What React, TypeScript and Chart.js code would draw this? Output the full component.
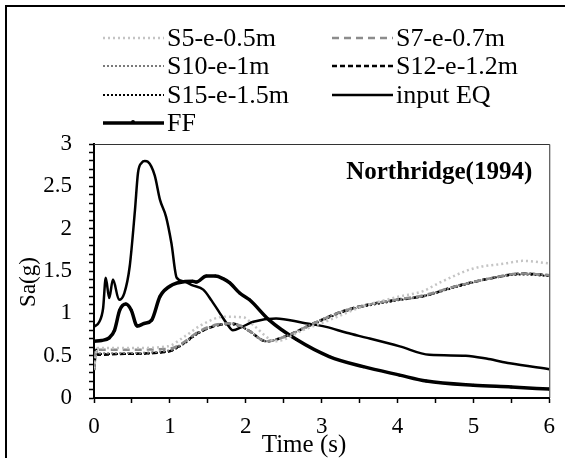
import React, { useEffect, useRef } from "react";
import { Chart, registerables } from "chart.js";

Chart.register(...registerables);

// ---- data ----
const inputT = [0, 0.07, 0.12, 0.155, 0.2, 0.25, 0.33, 0.4, 0.47, 0.54, 0.58, 0.63, 0.67, 0.71, 0.8, 0.87, 0.95, 1.02, 1.09, 1.19, 1.3, 1.44, 1.55, 1.66, 1.75, 1.83, 1.95, 2.1, 2.4, 2.75, 3.06, 3.33, 3.6, 4.03, 4.42, 4.9, 5.2, 5.48, 6.0];
const inputV = [0.84, 0.9, 1.06, 1.42, 1.18, 1.4, 1.16, 1.24, 1.55, 2.22, 2.66, 2.78, 2.8, 2.79, 2.63, 2.34, 2.14, 1.83, 1.42, 1.375, 1.33, 1.28, 1.15, 1.0, 0.88, 0.8, 0.84, 0.9, 0.94, 0.89, 0.84, 0.77, 0.71, 0.61, 0.51, 0.5, 0.46, 0.41, 0.34];

const ffT = [0, 0.1, 0.2, 0.27, 0.34, 0.42, 0.49, 0.57, 0.66, 0.76, 0.87, 1.04, 1.2, 1.3, 1.35, 1.48, 1.6, 1.7, 1.79, 1.92, 2.05, 2.31, 2.67, 3.1, 3.55, 4.03, 4.38, 5.0, 5.5, 6.0];
const ffV = [0.67, 0.68, 0.71, 0.8, 1.04, 1.11, 1.04, 0.85, 0.88, 0.92, 1.2, 1.34, 1.375, 1.38, 1.37, 1.44, 1.44, 1.41, 1.36, 1.24, 1.16, 0.92, 0.69, 0.49, 0.37, 0.27, 0.2, 0.15, 0.13, 0.105];

const sT = [0, 0.03, 0.05, 0.32, 0.98, 1.15, 1.37, 1.63, 1.81, 1.94, 2.05, 2.27, 2.53, 2.89, 3.33, 3.98, 4.33, 4.77, 5.21, 5.65, 6.0];
const s7V = [0.33, 0.58, 0.57, 0.57, 0.58, 0.64, 0.78, 0.87, 0.88, 0.85, 0.79, 0.67, 0.73, 0.88, 1.04, 1.16, 1.21, 1.32, 1.41, 1.47, 1.45];
const s10V = [0.33, 0.56, 0.53, 0.53, 0.56, 0.63, 0.77, 0.86, 0.88, 0.85, 0.79, 0.67, 0.73, 0.88, 1.04, 1.16, 1.2, 1.32, 1.41, 1.47, 1.45];
const s12V = [0.33, 0.57, 0.51, 0.52, 0.55, 0.63, 0.77, 0.86, 0.88, 0.85, 0.79, 0.67, 0.73, 0.88, 1.04, 1.16, 1.2, 1.32, 1.41, 1.47, 1.45];
const s15V = [0.33, 0.55, 0.52, 0.52, 0.55, 0.62, 0.76, 0.86, 0.87, 0.84, 0.79, 0.67, 0.73, 0.87, 1.03, 1.15, 1.2, 1.31, 1.41, 1.46, 1.44];

const s5T = [0, 0.05, 0.5, 0.97, 1.2, 1.41, 1.72, 1.98, 2.1, 2.4, 2.75, 3.1, 3.54, 4.03, 4.33, 4.55, 5.0, 5.43, 5.65, 6.0];
const s5V = [0.35, 0.59, 0.59, 0.61, 0.73, 0.86, 0.96, 0.95, 0.86, 0.67, 0.8, 0.92, 1.08, 1.2, 1.26, 1.36, 1.53, 1.59, 1.62, 1.59];

const seriesNames = ["S5-e-0.5m", "S7-e-0.7m", "S10-e-1m", "S12-e-1.2m", "S15-e-1.5m", "input EQ", "FF"];
const chartTitle = "Northridge(1994)";
const xTitle = "Time (s)";
const yTitle = "Sa(g)";
const xMin = 0, xMax = 6, xStep = 0.5;
const yMin = 0, yMax = 3, yStep = 0.1;

const zip = (t: number[], v: number[]) => t.map((x, i) => ({ x, y: v[i] }));

const FONT = "'Liberation Serif', 'Times New Roman', serif";

const decorPlugin = {
  id: "decor",
  beforeDraw(chart: any) {
    const ctx = chart.ctx;
    ctx.save();
    ctx.fillStyle = "#fff";
    ctx.fillRect(0, 0, chart.width, chart.height);
    ctx.restore();
  },
  afterDraw(chart: any) {
    const ctx = chart.ctx;
    const a = chart.chartArea;
    ctx.save();
    // outer frame (left + top)
    ctx.strokeStyle = "#000";
    ctx.lineWidth = 2;
    ctx.beginPath();
    ctx.moveTo(6, chart.height);
    ctx.lineTo(6, 6);
    ctx.lineTo(chart.width, 6);
    ctx.stroke();
    // plot frame top + right
    ctx.strokeStyle = "#333";
    ctx.lineWidth = 1;
    ctx.beginPath();
    ctx.moveTo(a.left, a.top + 0.5);
    ctx.lineTo(a.right + 0.5, a.top + 0.5);
    ctx.lineTo(a.right + 0.5, a.bottom);
    ctx.stroke();

    // title inside plot
    ctx.fillStyle = "#000";
    ctx.font = "bold 25px " + FONT;
    ctx.textAlign = "right";
    ctx.textBaseline = "middle";
    ctx.fillText(chartTitle, a.right - 17, a.top + 29);

    // axis titles
    ctx.font = "25px " + FONT;
    ctx.textAlign = "center";
    ctx.fillText(xTitle, a.left + 210, a.bottom + 47);
    ctx.font = "23px " + FONT;
    ctx.save();
    ctx.translate(29, a.top + 138);
    ctx.rotate(-Math.PI / 2);
    ctx.fillText(yTitle, 0, 0);
    ctx.restore();

    // legend
    const ds = chart.data.datasets;
    const cols = [103, 332];
    const rowY = [38, 66, 95, 123];
    ctx.font = "26px " + FONT;
    ctx.textAlign = "left";
    ds.forEach((d: any, i: number) => {
      const cx = cols[i % 2];
      const cy = rowY[Math.floor(i / 2)];
      ctx.save();
      ctx.strokeStyle = d.borderColor;
      ctx.lineWidth = d.borderWidth;
      ctx.setLineDash(d.borderDash || []);
      ctx.beginPath();
      ctx.moveTo(cx, cy);
      ctx.lineTo(cx + 61, cy);
      ctx.stroke();
      if (d.pointRadius > 0) {
        ctx.fillStyle = d.borderColor;
        ctx.beginPath();
        ctx.arc(cx + 30, cy - 1, 2, 0, Math.PI * 2);
        ctx.fill();
      }
      ctx.restore();
      ctx.fillStyle = "#000";
      ctx.textBaseline = "middle";
      ctx.fillText(d.label, cx + 64, cy + 1);
    });
    ctx.restore();
  },
};

export default function App() {
  const ref = useRef<HTMLCanvasElement | null>(null);
  useEffect(() => {
    if (!ref.current) return;
    const line = (label: string, data: any[], color: string, width: number, dash: number[], extra: any = {}) => ({
      label,
      data,
      borderColor: color,
      backgroundColor: color,
      borderWidth: width,
      borderDash: dash,
      pointRadius: 0,
      tension: 0.35,
      cubicInterpolationMode: "monotone",
      fill: false,
      ...extra,
    });
    const chart = new Chart(ref.current, {
      type: "line",
      data: {
        datasets: [
          line(seriesNames[0], zip(s5T, s5V), "#c4c4c4", 2.5, [2, 3]),
          line(seriesNames[1], zip(sT, s7V), "#8c8c8c", 2.5, [7, 5]),
          line(seriesNames[2], zip(sT, s10V), "#7a7a7a", 2, [2, 2]),
          line(seriesNames[3], zip(sT, s12V), "#000", 2.5, [5, 3]),
          line(seriesNames[4], zip(sT, s15V), "#000", 2, [2, 2]),
          line(seriesNames[5], zip(inputT, inputV), "#000", 2.5, []),
          line(seriesNames[6], zip(ffT, ffV), "#000", 3.5, [], { pointRadius: 1.5, pointBorderWidth: 0 }),
        ] as any,
      },
      options: {
        animation: false,
        responsive: false,
        maintainAspectRatio: false,
        layout: { padding: { top: 144, right: 15, left: 0, bottom: 0 } },
        plugins: { legend: { display: false }, tooltip: { enabled: false }, title: { display: false } },
        scales: {
          x: {
            type: "linear",
            min: xMin,
            max: xMax,
            afterFit: (s: any) => { s.height = 60; },
            ticks: {
              stepSize: xStep,
              autoSkip: false,
              maxRotation: 0,
              padding: 10,
              color: "#000",
              font: { family: FONT, size: 23 },
              callback: (v: any) => (Math.abs(v - Math.round(v)) < 1e-6 ? String(Math.round(v)) : ""),
            },
            grid: { drawOnChartArea: false, drawTicks: true, tickLength: 5, tickColor: "#000", tickWidth: 1.5 },
            border: { display: true, color: "#000", width: 2 },
          },
          y: {
            type: "linear",
            min: yMin,
            max: yMax,
            afterFit: (s: any) => { s.width = 94; },
            ticks: {
              stepSize: yStep,
              autoSkip: false,
              padding: 17,
              color: "#000",
              font: { family: FONT, size: 23 },
              callback: (v: any) => {
                const r = Math.round(v * 2) / 2;
                return Math.abs(v - r) < 1e-6 ? String(r) : "";
              },
            },
            grid: { drawOnChartArea: false, drawTicks: true, tickLength: 5, tickColor: "#000", tickWidth: 1.5 },
            border: { display: true, color: "#000", width: 2 },
          },
        },
      },
      plugins: [decorPlugin],
    });
    return () => chart.destroy();
  }, []);
  return (
    <div style={{ position: "fixed", left: 0, top: 0, width: 565, height: 458, background: "#fff" }}>
      <canvas ref={ref} width={565} height={458} style={{ display: "block" }} />
    </div>
  );
}
